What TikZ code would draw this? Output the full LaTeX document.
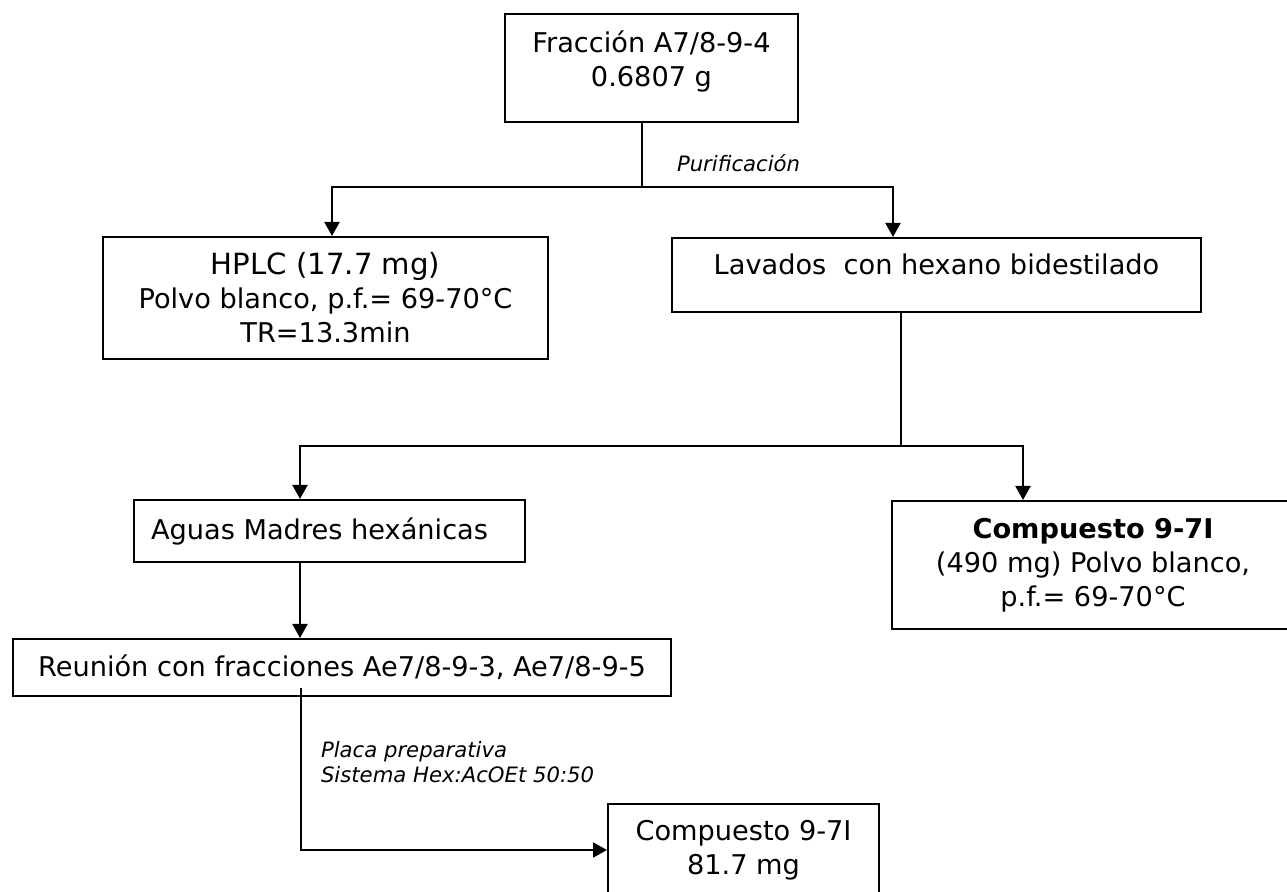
\documentclass[tikz,border=0pt]{standalone}
\usepackage{fontspec}
\setmainfont{DejaVu Sans}
\usetikzlibrary{arrows.meta}

\begin{document}
\begin{tikzpicture}[x=0.5pt, y=-0.5pt, line width=1pt,
	>={Triangle[length=7pt, width=7.5pt]},
	caja/.style={draw = black, shape = rectangle, inner sep = 0pt,
				 align = center, font=\fontsize{13.6}{17}\selectfont},
	nota/.style={font=\fontsize{10.6}{12.5}\selectfont\itshape,
				 align = left, anchor = west, inner sep = 0pt}]
	\clip (0,0) rectangle (1287,892);

	\draw (651.5,68) node[caja, minimum width = 146.5pt, minimum height = 54pt,
					 text height = 27pt, text depth = 8pt](frac) {Fracción A7/8-9-4\\0.6807 g};
	\draw (325.5,298) node[caja, minimum width = 222.5pt,
					 minimum height = 61pt](hplc) {{\fontsize{14.6}{17}\selectfont HPLC (17.7 mg)}\\Polvo blanco, p.f.= 69-70°C\\TR=13.3min};
	\draw (936.5,275) node[caja, minimum width = 264.5pt, minimum height = 37pt,
					 text height = 6pt, text depth = 6pt](lavados) {Lavados\ \ con hexano bidestilado};
	\draw (329.5,531) node[caja, minimum width = 195.5pt,
					 minimum height = 31pt](aguas) {Aguas Madres hexánicas\hspace*{10pt}};
	\draw (1093,565) node[caja, minimum width = 201pt,
					 minimum height = 64pt](comp1) {\textbf{Compuesto 9-7I}\\(490 mg) Polvo blanco,\\p.f.= 69-70°C};
	\draw (342,667.5) node[caja, minimum width = 329pt,
					 minimum height = 28.5pt](reunion) {Reunión con fracciones Ae7/8-9-3, Ae7/8-9-5};
	\draw (743.5,850) node[caja, minimum width = 135.5pt,
					 minimum height = 46pt](comp2) {Compuesto 9-7I\\81.7 mg};

	\draw (676,163) node[nota](purif) {Purificación};
	\draw (320,762) node[nota](placa) {Placa preparativa\\Sistema Hex:AcOEt 50:50};

	\coordinate (p1) at (642,187);
	\coordinate (p2) at (901,446);

	\draw (frac.south -| p1) -- (p1);
	\draw[->] (p1) -| ([xshift=3.25pt]hplc.north);
	\draw[->] (p1) -| ([xshift=-21.75pt]lavados.north);

	\draw ([xshift=-17.75pt]lavados.south) -- (p2);
	\draw[->] (p2) -| ([xshift=-14.75pt]aguas.north);
	\draw[->] (p2) -| ([xshift=-35pt]comp1.north);

	\draw[->] ([xshift=-14.75pt]aguas.south) -- ([xshift=-14.75pt]aguas.south |- reunion.north);
	\draw[->] ([xshift=-20.5pt, yshift=4.5pt]reunion.south) |- (comp2.west);
\end{tikzpicture}
\end{document}
